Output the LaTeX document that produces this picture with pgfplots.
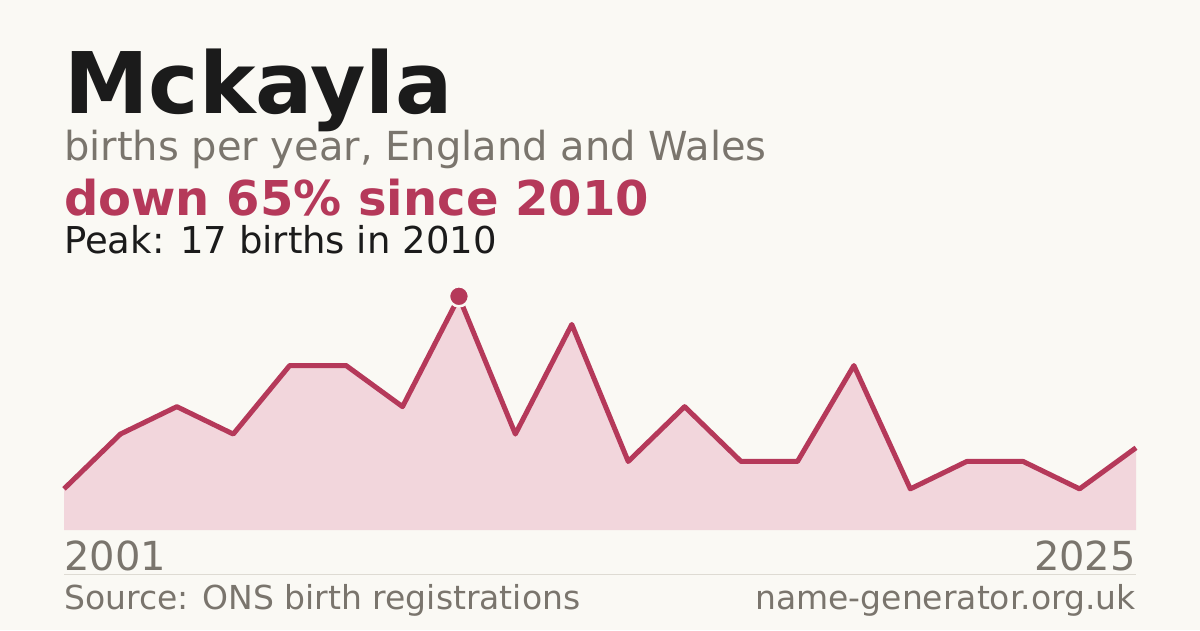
\documentclass[border=0pt]{standalone}
\usepackage{pgfplots}
\pgfplotsset{compat=1.18}
\usepackage{fontspec}
\setmainfont{DejaVu Sans}

\definecolor{bg}{HTML}{FAF9F4}
\definecolor{ink}{HTML}{1B1B1B}
\definecolor{muted}{HTML}{7A756D}
\definecolor{accent}{HTML}{B5395A}
\definecolor{areafill}{HTML}{F2D6DC}
\definecolor{rule}{HTML}{DEDBD3}

\begin{document}
\begin{tikzpicture}
% canvas: 1px = 1pt
\fill[bg] (0pt,0pt) rectangle (1200pt,-630pt);

\node[anchor=base west, inner sep=0pt, text=ink] at (64pt,-113pt)
  {\fontsize{85}{85}\selectfont\bfseries Mckayla};
\node[anchor=base west, inner sep=0pt, text=muted] at (64pt,-160pt)
  {\fontsize{40}{40}\selectfont births per year, England and Wales};
\node[anchor=base west, inner sep=0pt, text=accent] at (64pt,-215pt)
  {\fontsize{48}{48}\selectfont\bfseries down 65\% since 2010};
\node[anchor=base west, inner sep=0pt, text=ink] at (64pt,-253pt)
  {\fontsize{37}{37}\selectfont Peak: 17 births in 2010};

\begin{axis}[
    at={(64pt,-530pt)}, anchor=south west,
    scale only axis, width=1072pt, height=233pt,
    xmin=0, xmax=19, ymin=0, ymax=17,
    hide axis, clip=false,
]
\addplot[fill=areafill, draw=none] coordinates {
  (0,3) (1,7) (2,9) (3,7) (4,12) (5,12) (6,9) (7,17) (8,7) (9,15)
  (10,5) (11,9) (12,5) (13,5) (14,12) (15,3) (16,5) (17,5) (18,3) (19,6)
} \closedcycle;
\addplot[accent, line width=5pt, line join=round] coordinates {
  (0,3) (1,7) (2,9) (3,7) (4,12) (5,12) (6,9) (7,17) (8,7) (9,15)
  (10,5) (11,9) (12,5) (13,5) (14,12) (15,3) (16,5) (17,5) (18,3) (19,6)
};
\addplot[only marks, mark=*, mark size=10pt,
  mark options={fill=accent, draw=bg, line width=2.5pt}] coordinates {(7,17.05)};
\end{axis}

\node[anchor=base west, inner sep=0pt, text=muted] at (64pt,-570pt)
  {\fontsize{40}{40}\selectfont 2001};
\node[anchor=base east, inner sep=0pt, text=muted] at (1136pt,-570pt)
  {\fontsize{40}{40}\selectfont 2025};
\draw[rule, line width=1pt] (64pt,-574.5pt) -- (1136pt,-574.5pt);
\node[anchor=base west, inner sep=0pt, text=muted] at (64pt,-609pt)
  {\fontsize{33}{33}\selectfont Source: ONS birth registrations};
\node[anchor=base east, inner sep=0pt, text=muted] at (1136pt,-609pt)
  {\fontsize{33}{33}\selectfont name-generator.org.uk};
\end{tikzpicture}
\end{document}
